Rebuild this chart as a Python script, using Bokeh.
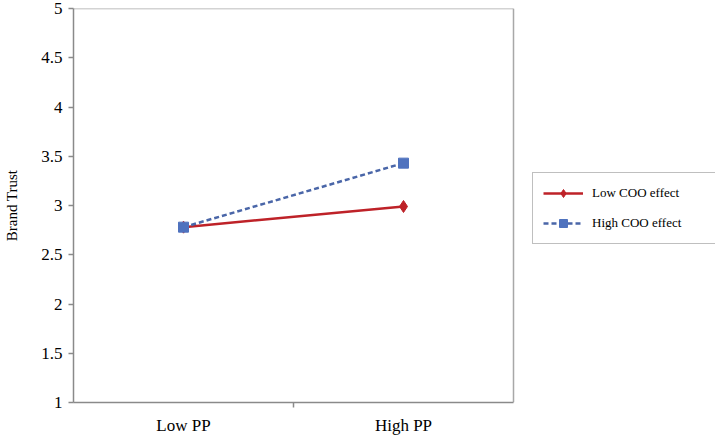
from bokeh.plotting import figure
from bokeh.models import FixedTicker, Legend, LegendItem, Range1d
from bokeh.embed import file_html
from bokeh.resources import INLINE

categories = ["Low PP", "High PP"]
low_coo = [2.78, 2.99]
high_coo = [2.78, 3.43]
y_ticks = [1, 1.5, 2, 2.5, 3, 3.5, 4, 4.5, 5]
y_tick_labels = ["1", "1.5", "2", "2.5", "3", "3.5", "4", "4.5", "5"]
y_min, y_max = 1, 5

FONT = "Liberation Serif"
GRAY = "#8a8a8a"

n = len(categories)
xs = [i + 0.5 for i in range(n)]

plot_area_px = 440          # width of the boxed plot area
frame_w = 642               # frame also hosts the legend to the right
x_end = n * frame_w / plot_area_px

p = figure(frame_width=frame_w, frame_height=394, output_backend="svg", toolbar_location=None,
           x_range=Range1d(0, x_end), y_range=Range1d(y_min, y_max),
           min_border_left=73, min_border_right=0, min_border_top=8, min_border_bottom=28)
p.background_fill_color = "white"
p.border_fill_color = "white"
p.outline_line_color = None
p.xgrid.visible = False
p.ygrid.visible = False

# plot-area box (top and right edges)
p.segment(x0=[0, n], y0=[y_max, y_min], x1=[n, n], y1=[y_max, y_max],
          line_color="#a8a8a8", line_width=1.5)

# x axis
p.xaxis.bounds = (0, n)
p.xaxis.ticker = FixedTicker(ticks=xs, minor_ticks=[float(i) for i in range(1, n)])
p.xaxis.major_label_overrides = {x: c for x, c in zip(xs, categories)}
p.xaxis.major_tick_line_color = None
p.xaxis.minor_tick_out = 5
p.xaxis.minor_tick_in = 0
p.xaxis.minor_tick_line_color = GRAY
p.xaxis.minor_tick_line_width = 1.5
p.xaxis.axis_line_color = GRAY
p.xaxis.axis_line_width = 1.5
p.xaxis.major_label_text_font = FONT
p.xaxis.major_label_text_font_size = "17px"
p.xaxis.major_label_text_color = "black"
p.xaxis.major_label_standoff = 7

# y axis
p.yaxis.ticker = FixedTicker(ticks=y_ticks, minor_ticks=[])
p.yaxis.major_label_overrides = {t: l for t, l in zip(y_ticks, y_tick_labels)}
p.yaxis.major_tick_out = 5
p.yaxis.major_tick_in = 0
p.yaxis.major_tick_line_color = GRAY
p.yaxis.major_tick_line_width = 1.5
p.yaxis.axis_line_color = GRAY
p.yaxis.axis_line_width = 1.5
p.yaxis.major_label_text_font = FONT
p.yaxis.major_label_text_font_size = "17px"
p.yaxis.major_label_text_color = "black"
p.yaxis.major_label_standoff = 6
p.yaxis.axis_label = "Brand Trust"
p.yaxis.axis_label_text_font = FONT
p.yaxis.axis_label_text_font_size = "15px"
p.yaxis.axis_label_text_font_style = "normal"
p.yaxis.axis_label_text_color = "black"
p.yaxis.axis_label_standoff = 18

red = "#BE2228"
blue_line = "#4A66A8"
blue_mark = "#4F72BE"

l1 = p.line(xs, low_coo, line_color=red, line_width=2.5)
m1 = p.scatter(xs, low_coo, marker="diamond", size=12, fill_color=red, line_color=red)
l2 = p.line(xs, high_coo, line_color=blue_line, line_width=2.5, line_dash="5 3")
m2 = p.scatter(xs, high_coo, marker="square", size=10, fill_color=blue_mark, line_color=blue_mark)

legend = Legend(items=[LegendItem(label="Low COO effect", renderers=[l1, m1]),
                       LegendItem(label="High COO effect", renderers=[l2, m2])],
                location=(459, 158))
legend.label_text_font = FONT
legend.label_text_font_size = "13px"
legend.label_text_color = "black"
legend.glyph_width = 40
legend.glyph_height = 20
legend.label_height = 20
legend.label_width = 115
legend.label_standoff = 9
legend.spacing = 10
legend.padding = 10
legend.margin = 0
legend.border_line_color = "#808080"
legend.border_line_width = 1
legend.background_fill_color = "white"
legend.background_fill_alpha = 1
p.add_layout(legend)

open("out.html", "w").write(file_html(p, INLINE))
